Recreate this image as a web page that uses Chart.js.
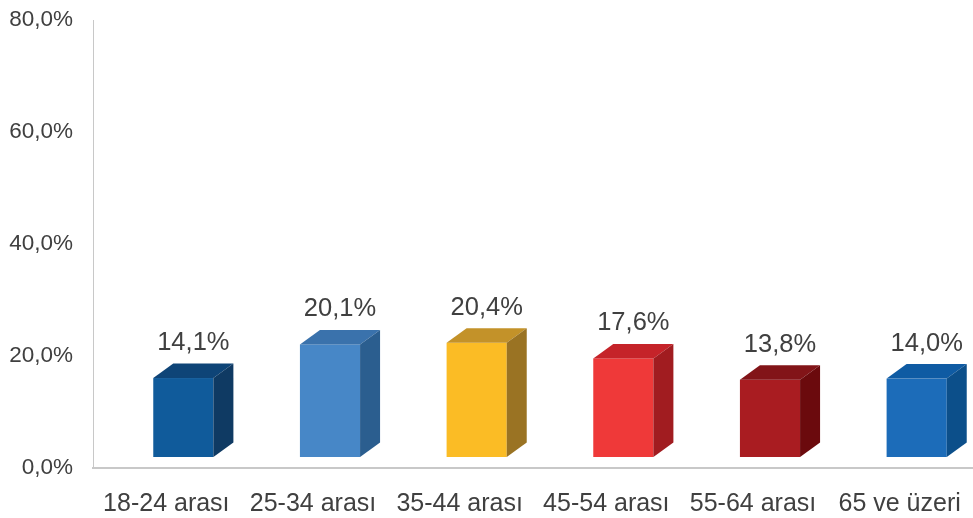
<!DOCTYPE html>
<html>
<head>
<meta charset="utf-8">
<script src="https://cdn.jsdelivr.net/npm/chart.js@4"></script>
<style>
  body { margin: 0; background: #fff; }
  canvas { display: block; }
</style>
</head>
<body>
<canvas id="grafikYas" width="973" height="518"></canvas>
<script>
// Yaş grupları ve oranlar (%)
const kategoriler = ['18-24 arası', '25-34 arası', '35-44 arası', '45-54 arası', '55-64 arası', '65 ve üzeri'];
const oranlar = [14.1, 20.1, 20.4, 17.6, 13.8, 14.0];
const eksenDegerleri = [0, 20, 40, 60, 80];

// 3B kutu renkleri: ön yüz, üst yüz, yan yüz
const onRenkler = ['#105B9B', '#4787C7', '#FBBC25', '#EF3939', '#A91C21', '#1C6CB9'];
const ustRenkler = ['#0E4477', '#3A72AC', '#C39229', '#C52329', '#821418', '#0F5BA3'];
const yanRenkler = ['#0F3A63', '#2B5E8F', '#9A7323', '#A11C20', '#6B0A0D', '#0C4F8A'];

const fmt = v => v.toFixed(1).replace('.', ',') + '%';

// derinlik ve zemin kaydırması
const DX = 20, DY = 14.5, ZEMIN_X = 17, ZEMIN_Y = 11;

// eksen etiketlerinin kenar boşluğu düzeni bozmasın
const boslukSifirla = s => {
  s.paddingTop = 0;
  s.paddingBottom = 0;
  s.paddingLeft = 0;
  s.paddingRight = 0;
};

const kutuCiz = {
  id: 'kutuCiz',
  afterDatasetsDraw(chart) {
    const ctx = chart.ctx;
    const meta = chart.getDatasetMeta(0);
    ctx.save();
    meta.data.forEach((bar, i) => {
      const p = bar.getProps(['x', 'y', 'base', 'width'], true);
      const sol = p.x + ZEMIN_X - p.width / 2;
      const sag = sol + p.width;
      const ust = p.y - ZEMIN_Y;
      const alt = p.base - ZEMIN_Y;

      // ön yüz
      ctx.fillStyle = onRenkler[i];
      ctx.fillRect(sol, ust, p.width, alt - ust);

      // üst yüz
      ctx.beginPath();
      ctx.moveTo(sol, ust);
      ctx.lineTo(sol + DX, ust - DY);
      ctx.lineTo(sag + DX, ust - DY);
      ctx.lineTo(sag, ust);
      ctx.closePath();
      ctx.fillStyle = ustRenkler[i];
      ctx.fill();

      // yan yüz
      ctx.beginPath();
      ctx.moveTo(sag, ust);
      ctx.lineTo(sag + DX, ust - DY);
      ctx.lineTo(sag + DX, alt - DY);
      ctx.lineTo(sag, alt);
      ctx.closePath();
      ctx.fillStyle = yanRenkler[i];
      ctx.fill();

      // değer etiketi
      ctx.fillStyle = '#404040';
      ctx.font = '25.5px "Liberation Sans", Arial, sans-serif';
      ctx.textAlign = 'center';
      ctx.textBaseline = 'middle';
      ctx.fillText(fmt(oranlar[i]), p.x + 27, p.y - 46);
    });
    ctx.restore();
  }
};

const ctx = document.getElementById('grafikYas').getContext('2d');
new Chart(ctx, {
  type: 'bar',
  data: {
    labels: kategoriler,
    datasets: [{
      data: oranlar,
      backgroundColor: 'rgba(0,0,0,0)',
      borderWidth: 0,
      barPercentage: 0.41,
      categoryPercentage: 1
    }]
  },
  options: {
    responsive: false,
    animation: false,
    layout: { padding: { top: 20, right: 0, bottom: 0, left: 0 } },
    plugins: {
      legend: { display: false },
      tooltip: { enabled: false }
    },
    scales: {
      x: {
        grid: { display: false, drawTicks: false },
        border: { display: true, color: '#C8C8C8', width: 2 },
        ticks: {
          color: '#404040',
          padding: 21,
          maxRotation: 0,
          autoSkip: false,
          font: { family: '"Liberation Sans", Arial, sans-serif', size: 25 }
        },
        afterFit: s => { s.height = 50; boslukSifirla(s); }
      },
      y: {
        min: 0,
        max: 80,
        afterBuildTicks: s => { s.ticks = eksenDegerleri.map(v => ({ value: v })); },
        grid: { display: false, drawTicks: false },
        border: { display: true, color: '#C8C8C8', width: 1 },
        ticks: {
          color: '#404040',
          padding: 20,
          callback: v => fmt(v),
          font: { family: '"Liberation Sans", Arial, sans-serif', size: 22.5 }
        },
        afterFit: s => { s.width = 93; boslukSifirla(s); }
      }
    }
  },
  plugins: [kutuCiz]
});
</script>
</body>
</html>
